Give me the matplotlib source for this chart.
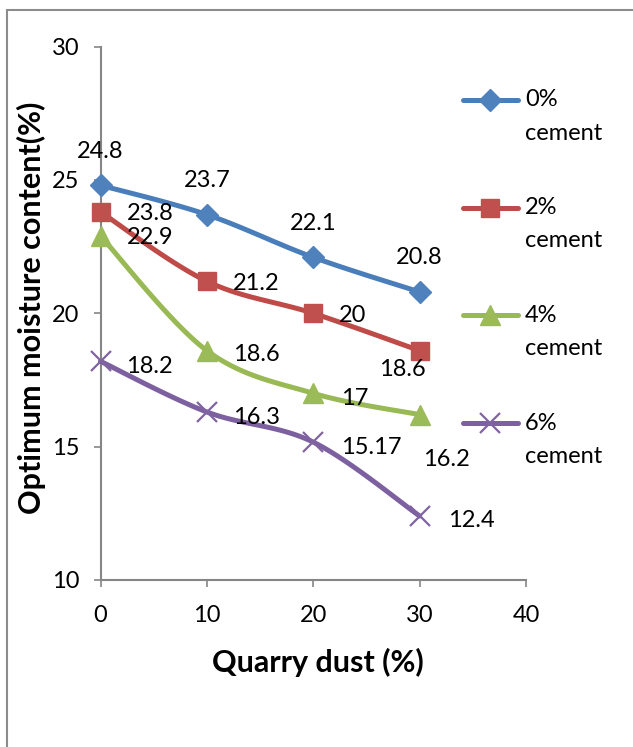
import numpy as np
import matplotlib
matplotlib.use("Agg")
import matplotlib.pyplot as plt
from matplotlib.lines import Line2D
from matplotlib.patches import Rectangle

plt.rcParams['font.family'] = ['Lato', 'DejaVu Sans']

# data
quarry_dust = [0, 10, 20, 30]
cement = ['0%', '2%', '4%', '6%']
omc_0 = [24.8, 23.7, 22.1, 20.8]
omc_2 = [23.8, 21.2, 20, 18.6]
omc_4 = [22.9, 18.6, 17, 16.2]
omc_6 = [18.2, 16.3, 15.17, 12.4]
x_ticks = [0, 10, 20, 30, 40]
y_ticks = [10, 15, 20, 25, 30]

# styles (excel 2007 palette)
line_cols = ['#4A7EBB', '#BE4B48', '#98B954', '#7D60A0']
mark_cols = ['#4F81BD', '#C0504D', '#9BBB59', '#8064A2']
markers = ['D', 's', '^', 'x']
msizes = [11, 13, 14, 14]
FS = 17

# data label placement, pixels (dx, dy, ha)
lbl_pos = [
    [(0, 34, 'center')] * 4,
    [(26, -2, 'left')] * 3 + [(-17, -19, 'center')],
    [(26, -2, 'left'), (26, -4, 'left'), (28, -5, 'left'), (27, -45, 'center')],
    [(26, -5, 'left'), (26, -6, 'left'), (28, -5, 'left'), (28, -5, 'left')],
]


def smooth(x, y, n=40):
    # excel-like smoothed line: bezier segments, catmull-rom control points
    px = np.r_[x[0], x, x[-1]].astype(float)
    py = np.r_[y[0], y, y[-1]].astype(float)
    t = np.linspace(0, 1, n)[:, None]
    xs, ys = [], []
    for i in range(1, len(px) - 2):
        p0 = np.array([px[i], py[i]])
        p3 = np.array([px[i + 1], py[i + 1]])
        c1 = p0 + np.array([px[i + 1] - px[i - 1], py[i + 1] - py[i - 1]]) / 6
        c2 = p3 - np.array([px[i + 2] - px[i], py[i + 2] - py[i]]) / 6
        b = (1 - t)**3 * p0 + 3 * (1 - t)**2 * t * c1 + 3 * (1 - t) * t**2 * c2 + t**3 * p3
        xs.append(b[:, 0])
        ys.append(b[:, 1])
    return np.concatenate(xs), np.concatenate(ys)


W, H = 633, 747
fig = plt.figure(figsize=(W / 100, H / 100), dpi=100)
ax = fig.add_axes([100.5 / W, 1 - 580 / H, 425.5 / W, 533.4 / H])

# outer chart border (only top/left visible)
fig.add_artist(Rectangle((7 / W, -0.5), 2, 0.5 + 1 - 10 / H, transform=fig.transFigure,
                         fill=False, ec='#8c8c8c', lw=1.5))

all_series = [omc_0, omc_2, omc_4, omc_6]
for k, vals in enumerate(all_series):
    sx, sy = smooth(quarry_dust, vals)
    ax.plot(sx, sy, color=line_cols[k], lw=3.6, solid_capstyle='round', clip_on=False, zorder=3)
    if markers[k] == 'x':
        ax.plot(quarry_dust, vals, ls='none', marker='x', ms=msizes[k], mew=1.6,
                color=mark_cols[k], clip_on=False, zorder=4)
    else:
        ax.plot(quarry_dust, vals, ls='none', marker=markers[k], ms=msizes[k],
                mfc=mark_cols[k], mec=mark_cols[k], clip_on=False, zorder=4)
    for j, v in enumerate(vals):
        dx, dy, ha = lbl_pos[k][j]
        ax.annotate(f"{v:g}", (quarry_dust[j], v), xytext=(dx, dy), textcoords='offset pixels',
                    ha=ha, va='center', fontsize=FS, color='black', zorder=5)

ax.set_xlim(0, 40)
ax.set_ylim(10, 30)
ax.set_xticks(x_ticks)
ax.set_yticks(y_ticks)
for s in ['top', 'right']:
    ax.spines[s].set_visible(False)
for s in ['left', 'bottom']:
    ax.spines[s].set_color('#868686')
    ax.spines[s].set_linewidth(1.5)
ax.tick_params(direction='out', length=5, width=1.2, color='#868686', labelsize=FS,
               labelcolor='black')
ax.tick_params(axis='x', pad=13)
ax.tick_params(axis='y', pad=10)

fig.text(318 / W, 1 - 662 / H, 'Quarry dust (%)', ha='center', va='center',
         fontsize=22, fontweight='bold')
fig.text(31 / W, 1 - 308 / H, 'Optimum moisture content(%)', ha='center', va='center',
         rotation=90, fontsize=22, fontweight='bold')

# legend, drawn by hand to keep excel's layout
for k, name in enumerate(cement):
    yy = 1 - (100 + 107.7 * k) / H
    x0, x1 = 463 / W, 518 / W
    fig.add_artist(Line2D([x0, x1], [yy, yy], color=line_cols[k], lw=3.6,
                          solid_capstyle='round', transform=fig.transFigure))
    if markers[k] == 'x':
        fig.add_artist(Line2D([(x0 + x1) / 2], [yy], ls='none', marker='x', ms=msizes[k],
                              mew=1.6, color=mark_cols[k], transform=fig.transFigure))
    else:
        fig.add_artist(Line2D([(x0 + x1) / 2], [yy], ls='none', marker=markers[k],
                              ms=msizes[k], mfc=mark_cols[k], mec=mark_cols[k],
                              transform=fig.transFigure))
    fig.text(525 / W, yy, name, ha='left', va='center', fontsize=FS)
    fig.text(525 / W, yy - 33 / H, 'cement', ha='left', va='center', fontsize=FS)

fig.savefig('out.png', dpi=100)
